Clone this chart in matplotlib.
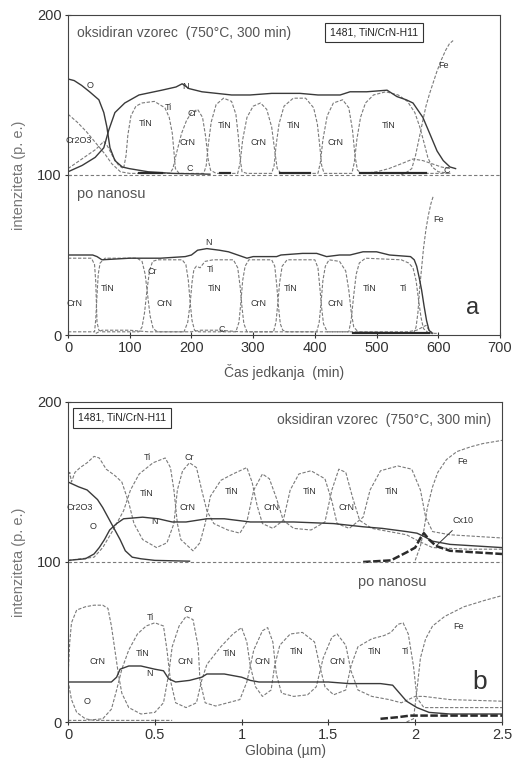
import matplotlib
matplotlib.use('Agg')
import matplotlib.pyplot as plt

plt.rcParams['font.family'] = ['Liberation Sans', 'DejaVu Sans']

# (a) intensity vs. sputter time, oxidised sample shifted by +100
a_ox_O = [(0, 160), (10, 159), (22, 156), (35, 152), (50, 147), (58, 139), (63, 130), (68, 117),
          (76, 109), (88, 105), (99, 104), (130, 102), (170, 101), (230, 100.5)]
a_ox_N = [(0, 102), (23, 106), (44, 111), (58, 117), (66, 128), (76, 139), (92, 145), (115, 150),
          (152, 153), (175, 155), (185, 157), (196, 154), (217, 152), (241, 151), (265, 150),
          (295, 150), (330, 151), (376, 151), (405, 150), (441, 150), (457, 152), (484, 152),
          (517, 153), (533, 149), (548, 147), (559, 145), (575, 136), (586, 126), (598, 115),
          (608, 109), (619, 105), (628, 104)]
a_ox_Cr = [(0, 138), (15, 133), (30, 127), (45, 120), (60, 113), (71, 107), (85, 102), (100, 101),
           (165, 101), (170, 104), (176, 114), (184, 126), (192, 134), (200, 139), (210, 141),
           (218, 136), (223, 124), (227, 110), (231, 103), (240, 101), (275, 101), (279, 108),
           (283, 122), (290, 136), (300, 143), (312, 145), (322, 141), (330, 130), (335, 115),
           (339, 104), (345, 101), (405, 101), (409, 108), (413, 122), (420, 137), (430, 145),
           (445, 147), (455, 142), (461, 128), (465, 112), (469, 103), (476, 101), (620, 101)]
a_ox_Ti = [(0, 104), (15, 108), (30, 112), (45, 116), (58, 121), (64, 118), (72, 112), (82, 106),
           (90, 104), (94, 112), (97, 125), (102, 137), (110, 143), (120, 145), (140, 146),
           (157, 142), (164, 136), (169, 126), (172, 113), (174, 104), (180, 101), (220, 101),
           (224, 106), (227, 118), (232, 133), (240, 144), (252, 148), (265, 146), (272, 138),
           (276, 124), (279, 110), (282, 102), (290, 101), (330, 101), (334, 106), (337, 118),
           (342, 132), (350, 143), (365, 148), (385, 148), (398, 142), (404, 132), (408, 118),
           (411, 106), (415, 101), (460, 101), (464, 108), (468, 122), (474, 136), (482, 145),
           (495, 150), (515, 152), (535, 150), (550, 146), (562, 139), (570, 130), (577, 120),
           (583, 111), (590, 105), (600, 102), (620, 101)]
a_ox_Fe = [(540, 100), (550, 102), (557, 104), (563, 112), (569, 123), (575, 134), (580, 143),
           (586, 151), (592, 158), (598, 165), (605, 172), (612, 178), (618, 182), (624, 184)]
a_ox_C = [(480, 101), (500, 102), (520, 104), (540, 107), (559, 110), (575, 109), (590, 107),
          (605, 105), (618, 104)]
a_ox_C_dark = [(115, 152), (246, 262), (343, 392), (473, 580)]

# (a) as deposited
a_dep_N = [(0, 50), (40, 50), (47, 49), (55, 47), (100, 48), (150, 48), (190, 49), (200, 50),
           (210, 53), (225, 54), (245, 53), (260, 52), (275, 50), (290, 48), (300, 49), (338, 49),
           (345, 50), (380, 51), (403, 51), (419, 49), (440, 50), (457, 50), (478, 52), (500, 52),
           (521, 50), (555, 49), (561, 47), (565, 43), (569, 36), (573, 28), (577, 18), (581, 9),
           (585, 3), (590, 1)]
a_dep_Cr = [(0, 48), (38, 48), (43, 44), (45, 33), (46, 20), (47, 8), (50, 3), (55, 2), (115, 2),
            (120, 5), (124, 14), (128, 28), (132, 40), (137, 46), (145, 47), (185, 47), (191, 44),
            (195, 34), (198, 20), (201, 9), (205, 3), (212, 2), (272, 2), (277, 8), (280, 20),
            (283, 34), (287, 43), (293, 47), (330, 47), (335, 43), (338, 32), (341, 18), (344, 7),
            (348, 3), (355, 2), (403, 2), (407, 8), (410, 20), (413, 34), (417, 43), (423, 47),
            (440, 46), (450, 40), (455, 28), (459, 14), (463, 5), (470, 2), (600, 1)]
a_dep_Ti = [(0, 2), (43, 2), (45, 10), (47, 25), (49, 38), (52, 45), (60, 48), (112, 48), (120, 46),
            (125, 38), (129, 25), (133, 12), (138, 4), (145, 2), (188, 2), (194, 8), (198, 20),
            (201, 33), (204, 41), (208, 43), (214, 42), (222, 46), (235, 47), (268, 47), (275, 42),
            (279, 30), (282, 17), (285, 7), (290, 2), (333, 2), (337, 8), (340, 20), (343, 33),
            (347, 43), (355, 47), (400, 47), (405, 42), (408, 30), (411, 17), (414, 7), (420, 2),
            (455, 2), (459, 10), (463, 25), (467, 38), (472, 45), (482, 48), (540, 47), (552, 45),
            (559, 42), (564, 34), (568, 22), (572, 11), (576, 4), (585, 1)]
a_dep_Fe = [(560, 1), (564, 5), (567, 14), (570, 30), (573, 42), (576, 54), (580, 66), (584, 75),
            (588, 82), (592, 87)]
a_dep_C = [(45, 1), (55, 3), (100, 3), (130, 2), (200, 2), (215, 3), (245, 3), (280, 2), (460, 2),
           (550, 2), (565, 3), (575, 5), (580, 6), (585, 3), (592, 1)]
a_dep_C_dark = [(462, 585)]

# (b) intensity vs. depth, oxidised sample shifted by +100
b_ox_O = [(0, 150), (0.02, 149), (0.06, 147), (0.11, 145), (0.17, 139), (0.2, 134), (0.23, 128),
          (0.27, 120), (0.3, 114), (0.33, 107), (0.37, 103), (0.42, 102), (0.5, 101), (0.7, 100.5)]
b_ox_N = [(0, 101), (0.1, 102), (0.15, 105), (0.18, 109), (0.21, 114), (0.24, 120), (0.28, 124),
          (0.32, 127), (0.43, 128), (0.52, 127), (0.6, 125), (0.68, 125), (0.8, 127), (0.9, 127),
          (1.05, 125), (1.3, 125), (1.53, 124), (1.7, 122), (1.81, 121), (1.95, 119), (2.01, 118),
          (2.05, 116), (2.1, 113), (2.2, 111), (2.35, 110), (2.5, 109)]
b_ox_Cr = [(0, 152), (0.01, 156), (0.02, 150), (0.04, 156), (0.07, 159), (0.11, 162), (0.15, 166),
           (0.18, 165), (0.22, 158), (0.27, 154), (0.31, 150), (0.35, 137), (0.38, 124), (0.43, 114),
           (0.51, 109), (0.57, 112), (0.61, 124), (0.63, 145), (0.66, 157), (0.7, 162), (0.74, 159),
           (0.77, 145), (0.8, 132), (0.84, 124), (0.92, 120), (0.99, 118), (1.03, 125), (1.07, 145),
           (1.12, 155), (1.16, 152), (1.2, 140), (1.24, 126), (1.3, 121), (1.4, 120), (1.48, 125),
           (1.52, 145), (1.56, 158), (1.6, 156), (1.64, 140), (1.68, 126), (1.75, 121), (1.85, 119),
           (1.95, 117), (2.02, 113), (2.1, 109), (2.3, 108), (2.5, 108)]
b_ox_Ti = [(0, 101), (0.15, 103), (0.2, 109), (0.26, 120), (0.32, 132), (0.36, 145), (0.41, 155),
           (0.49, 162), (0.56, 165), (0.59, 159), (0.61, 145), (0.63, 124), (0.65, 114), (0.72, 107),
           (0.76, 112), (0.79, 124), (0.82, 141), (0.88, 151), (0.95, 155), (1.03, 159), (1.06, 150),
           (1.09, 135), (1.12, 124), (1.18, 121), (1.24, 126), (1.28, 145), (1.33, 155), (1.4, 157),
           (1.48, 152), (1.52, 138), (1.55, 124), (1.62, 121), (1.7, 128), (1.74, 145), (1.8, 157),
           (1.9, 160), (1.98, 158), (2.03, 145), (2.06, 128), (2.1, 119), (2.2, 117), (2.35, 116),
           (2.5, 115)]
b_ox_Fe = [(2.0, 101), (2.03, 110), (2.05, 120), (2.07, 134), (2.1, 147), (2.13, 156), (2.18, 164),
           (2.24, 169), (2.32, 172), (2.39, 174), (2.5, 176)]
b_ox_C = [(1.7, 100), (1.86, 101), (1.95, 106), (2.0, 109), (2.03, 115), (2.05, 118), (2.08, 114),
          (2.12, 110), (2.2, 107), (2.35, 106), (2.5, 105)]

# (b) as deposited
b_dep_O = [(0, 26), (0.02, 14), (0.05, 6), (0.1, 2), (0.15, 1), (0.3, 1), (0.6, 1)]
b_dep_N = [(0, 25), (0.25, 25), (0.28, 28), (0.3, 33), (0.35, 35), (0.42, 35), (0.5, 33), (0.55, 32),
           (0.58, 27), (0.62, 25), (0.7, 26), (0.77, 28), (0.8, 30), (0.9, 30), (1.0, 28), (1.05, 26),
           (1.1, 25), (1.3, 25), (1.5, 25), (1.62, 24), (1.8, 24), (1.87, 23), (1.91, 18), (1.95, 13),
           (2.01, 9), (2.08, 6), (2.2, 5), (2.5, 5)]
b_dep_Cr = [(0, 28), (0.01, 50), (0.02, 62), (0.05, 70), (0.1, 72), (0.15, 73), (0.2, 73), (0.23, 71),
            (0.25, 60), (0.27, 45), (0.29, 30), (0.31, 18), (0.35, 9), (0.42, 5), (0.5, 6), (0.55, 12),
            (0.58, 30), (0.6, 47), (0.64, 60), (0.68, 66), (0.72, 64), (0.75, 47), (0.76, 26),
            (0.79, 12), (0.85, 10), (0.92, 12), (0.99, 14), (1.03, 25), (1.07, 45), (1.12, 57),
            (1.15, 59), (1.18, 50), (1.2, 30), (1.23, 18), (1.3, 16), (1.38, 17), (1.43, 22),
            (1.47, 40), (1.52, 53), (1.55, 55), (1.6, 48), (1.63, 32), (1.67, 20), (1.75, 16),
            (1.85, 14), (1.92, 12), (2.0, 16), (2.05, 16), (2.2, 14), (2.5, 13)]
b_dep_Ti = [(0, 1), (0.1, 1), (0.2, 2), (0.25, 8), (0.28, 20), (0.31, 33), (0.35, 45), (0.4, 55),
            (0.45, 60), (0.5, 62), (0.55, 60), (0.57, 45), (0.59, 26), (0.62, 12), (0.68, 9),
            (0.74, 12), (0.77, 26), (0.8, 36), (0.88, 47), (0.95, 55), (1.0, 59), (1.03, 50),
            (1.05, 35), (1.08, 22), (1.12, 16), (1.17, 20), (1.19, 35), (1.22, 48), (1.28, 55),
            (1.35, 56), (1.42, 50), (1.45, 35), (1.48, 22), (1.53, 17), (1.6, 20), (1.63, 35),
            (1.67, 47), (1.75, 52), (1.82, 54), (1.86, 56), (1.9, 61), (1.93, 62), (1.96, 55),
            (1.99, 35), (2.01, 15), (2.05, 9), (2.2, 9), (2.5, 9)]
b_dep_Fe = [(1.95, 0), (1.99, 2), (2.01, 20), (2.03, 40), (2.06, 52), (2.1, 60), (2.17, 66),
            (2.28, 72), (2.4, 76), (2.5, 79)]
b_dep_C = [(1.8, 2), (1.9, 3), (1.97, 4), (2.05, 4), (2.5, 4)]

SOLID = '#3a3a3a'
DASH = '#7a7a7a'


def prof(ax, pts, kind='dash'):
    x = [p[0] for p in pts]
    y = [p[1] for p in pts]
    if kind == 'solid':
        ax.plot(x, y, color=SOLID, lw=1.0)
    elif kind == 'dark':
        ax.plot(x, y, color='#2a2a2a', lw=1.8, ls=(0, (3, 1)))
    else:
        ax.plot(x, y, color=DASH, lw=0.8, ls=(0, (3, 1.5)))


def style(ax, xmax, xticks, xlabel, pad):
    ax.set_xlim(0, xmax)
    ax.set_ylim(0, 200)
    ax.set_yticks([0, 100, 200])
    ax.set_xticks(xticks)
    ax.tick_params(direction='inout', length=5, width=0.8, labelsize=10.5,
                   colors='#333333', pad=2)
    for s in ax.spines.values():
        s.set_color('#444444')
        s.set_linewidth(0.8)
    ax.axhline(100, color=DASH, lw=0.8, ls=(0, (3, 2)))
    ax.set_xlabel(xlabel, fontsize=10, color='#555555', labelpad=pad)
    ax.set_ylabel('intenziteta (p. e.)', fontsize=10.5, color='#777777', labelpad=8)


def lab(ax, x, y, s, fs=6.5, **kw):
    ax.text(x, y, s, fontsize=fs, color='#333333', ha='center', va='center', **kw)


fig = plt.figure(figsize=(5.16, 7.6), dpi=100)
ax1 = fig.add_axes([0.1318, 0.5592, 0.8372, 0.4211])
ax2 = fig.add_axes([0.1318, 0.0500, 0.8411, 0.4211])

# ---- panel a ----
for pts in [a_ox_Cr, a_ox_Ti, a_ox_Fe, a_ox_C, a_dep_Cr, a_dep_Ti, a_dep_Fe, a_dep_C]:
    prof(ax1, pts)
for pts in [a_ox_O, a_ox_N, a_dep_N]:
    prof(ax1, pts, 'solid')
for x0, x1 in a_ox_C_dark:
    ax1.plot([x0, x1], [101, 101], color='#2a2a2a', lw=1.6)
for x0, x1 in a_dep_C_dark:
    ax1.plot([x0, x1], [1, 1], color='#2a2a2a', lw=1.6)
style(ax1, 700, range(0, 701, 100), 'Čas jedkanja  (min)', 6)

ax1.text(14, 189, 'oksidiran vzorec  (750°C, 300 min)', fontsize=10, color='#555555', va='center')
ax1.text(496, 189, '1481, TiN/CrN-H11', fontsize=7.5, color='#222222', ha='center', va='center',
         bbox=dict(boxstyle='square,pad=0.45', fc='white', ec='#333333', lw=0.8))
ax1.text(14, 88, 'po nanosu', fontsize=10.5, color='#555555', va='center')
ax1.text(656, 17, 'a', fontsize=17, color='#333333', ha='center', va='center')
for x, y, s in [(36, 156, 'O'), (190, 155.5, 'N'), (162, 142, 'Ti'), (201, 138.5, 'Cr'),
                (18, 121.6, 'Cr2O3'), (125, 132, 'TiN'), (194, 120, 'CrN'), (254, 131, 'TiN'),
                (308, 120, 'CrN'), (365, 131, 'TiN'), (433, 120, 'CrN'), (519, 131, 'TiN'),
                (608, 168.7, 'Fe'), (198, 104, 'C'), (614, 103, 'C'),
                (227, 57.7, 'N'), (136, 40, 'Cr'), (230, 41, 'Ti'), (11, 20, 'CrN'),
                (65, 29, 'TiN'), (157, 20, 'CrN'), (238, 29, 'TiN'), (308, 20, 'CrN'),
                (360, 29, 'TiN'), (434, 20, 'CrN'), (489, 29, 'TiN'), (543, 29, 'Ti'),
                (600, 72, 'Fe'), (249, 3.7, 'C')]:
    lab(ax1, x, y, s)

# ---- panel b ----
for pts in [b_ox_Cr, b_ox_Ti, b_ox_Fe, b_dep_O, b_dep_Cr, b_dep_Ti, b_dep_Fe]:
    prof(ax2, pts)
for pts in [b_ox_O, b_ox_N, b_dep_N]:
    prof(ax2, pts, 'solid')
for pts in [b_ox_C, b_dep_C]:
    prof(ax2, pts, 'dark')
style(ax2, 2.5, [0, 0.5, 1, 1.5, 2, 2.5], 'Globina (µm)', 1)
ax2.set_xticklabels(['0', '0.5', '1', '1.5', '2', '2.5'])

ax2.text(2.44, 189, 'oksidiran vzorec  (750°C, 300 min)', fontsize=10, color='#555555',
         ha='right', va='center')
ax2.text(0.31, 190, '1481, TiN/CrN-H11', fontsize=7.5, color='#222222', ha='center', va='center',
         bbox=dict(boxstyle='square,pad=0.45', fc='white', ec='#333333', lw=0.8))
ax2.text(1.87, 87.5, 'po nanosu', fontsize=10.5, color='#555555', ha='center', va='center')
ax2.text(2.373, 25, 'b', fontsize=19, color='#333333', ha='center', va='center')
ax2.annotate('Cx10', xy=(2.12, 110), xytext=(2.275, 126), fontsize=6.5, color='#333333',
             ha='center', va='center',
             arrowprops=dict(arrowstyle='-', color='#333333', lw=0.7, shrinkB=0, shrinkA=3))
for x, y, s in [(0.455, 165.6, 'Ti'), (0.70, 165.6, 'Cr'), (0.455, 143, 'TiN'), (0.69, 134, 'CrN'),
                (0.945, 144, 'TiN'), (0.07, 134, 'Cr2O3'), (0.144, 122, 'O'), (0.50, 125, 'N'),
                (1.175, 134, 'CrN'), (1.394, 144, 'TiN'), (1.607, 134, 'CrN'), (1.866, 144, 'TiN'),
                (2.27, 162.5, 'Fe'),
                (0.167, 37.5, 'CrN'), (0.432, 43, 'TiN'), (0.472, 30.6, 'N'), (0.674, 37.5, 'CrN'),
                (0.933, 43, 'TiN'), (0.472, 65.6, 'Ti'), (0.691, 70, 'Cr'), (0.109, 12.5, 'O'),
                (1.118, 37.5, 'CrN'), (1.319, 43.75, 'TiN'), (1.55, 37.5, 'CrN'),
                (1.768, 43.75, 'TiN'), (1.941, 43.75, 'Ti'), (2.247, 59.4, 'Fe')]:
    lab(ax2, x, y, s)

fig.savefig('out.png', dpi=100)
